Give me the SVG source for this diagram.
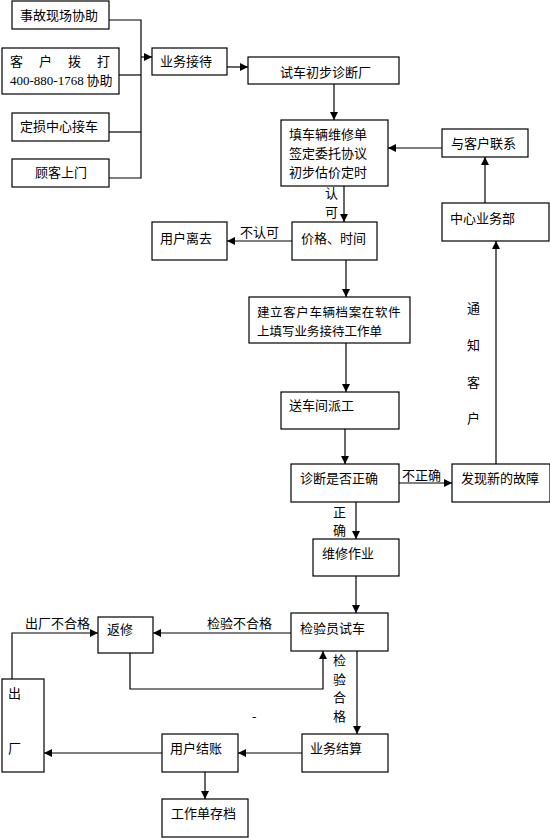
<svg xmlns="http://www.w3.org/2000/svg" width="550" height="838" viewBox="0 0 550 838">
<defs>
<marker id="ah" viewBox="0 0 8 8" refX="8" refY="4" markerWidth="8" markerHeight="8" markerUnits="userSpaceOnUse" orient="auto">
<path d="M0,0 L8,4 L0,8 Z" fill="#000"/>
</marker>
</defs>
<style>
rect{fill:#fff;stroke:#000;stroke-width:1.2}
text{font-family:"Noto Sans CJK SC","Liberation Sans",sans-serif;font-size:13px;fill:#000}
.num{font-family:"Liberation Serif",serif;font-size:13px}
.sm{font-size:12.5px}
#connectors path{fill:none;stroke:#000;stroke-width:1.2}
.arr{marker-end:url(#ah)}
</style>
<rect x="0" y="0" width="550" height="838" style="fill:#fff;stroke:none"/>
<g id="n1"><rect x="12" y="1" width="97" height="28"/><text x="20" y="20">事故现场协助</text></g>
<g id="n2"><rect x="2" y="48" width="117" height="46"/><text x="10" y="66">客</text><text x="39" y="66">户</text><text x="68" y="66">拨</text><text x="97" y="66">打</text><text x="10" y="85"><tspan class="num">400-880-1768</tspan> 协助</text></g>
<g id="n3"><rect x="12" y="113" width="97" height="28"/><text x="20" y="131">定损中心接车</text></g>
<g id="n4"><rect x="12" y="159" width="97" height="28"/><text x="35" y="177">顾客上门</text></g>
<g id="n5"><rect x="152" y="48" width="75" height="27"/><text x="160" y="66">业务接待</text></g>
<g id="n6"><rect x="248" y="57" width="151" height="27"/><text x="280" y="77">试车初步诊断厂</text></g>
<g id="n7"><rect x="281" y="120" width="107" height="66"/><text x="289" y="139">填车辆维修单</text><text x="289" y="158">签定委托协议</text><text x="289" y="177">初步估价定时</text></g>
<g id="n8"><rect x="442" y="129" width="86" height="28"/><text x="451" y="148">与客户联系</text></g>
<g id="n9"><rect x="442" y="203" width="107" height="38"/><text x="450" y="223">中心业务部</text></g>
<g id="n10"><rect x="292" y="222" width="85" height="38"/><text x="301" y="243">价格、时间</text></g>
<g id="n11"><rect x="152" y="222" width="75" height="38"/><text x="160" y="243">用户离去</text></g>
<g id="n12"><rect x="249" y="297" width="161" height="46"/><text class="sm" x="257" y="317" letter-spacing="0.6">建立客户车辆档案在软件</text><text class="sm" x="257" y="336">上填写业务接待工作单</text></g>
<g id="n13"><rect x="281" y="392" width="118" height="37"/><text x="289" y="410">送车间派工</text></g>
<g id="n14"><rect x="291" y="464" width="108" height="38"/><text x="300" y="483">诊断是否正确</text></g>
<g id="n15"><rect x="452" y="464" width="98" height="38"/><text x="461" y="483">发现新的故障</text></g>
<g id="n16"><rect x="313" y="539" width="86" height="37"/><text x="322" y="558">维修作业</text></g>
<g id="n17"><rect x="291" y="613" width="97" height="38"/><text x="300" y="633">检验员试车</text></g>
<g id="n18"><rect x="98" y="617" width="55" height="36"/><text x="107" y="634">返修</text></g>
<g id="n19"><rect x="2" y="679" width="42" height="93"/><text x="8" y="698">出</text><text x="8" y="753">厂</text></g>
<g id="n20"><rect x="302" y="734" width="86" height="38"/><text x="310" y="753">业务结算</text></g>
<g id="n21"><rect x="162" y="734" width="76" height="38"/><text x="170" y="753">用户结账</text></g>
<g id="n22"><rect x="162" y="799" width="86" height="38"/><text x="171" y="818">工作单存档</text></g>
<g id="connectors">
<path d="M109,20 H141 V178 H109"/>
<path d="M119,75 H141"/>
<path d="M109,132 H141"/>
<path class="arr" d="M141,57 H152"/>
<path class="arr" d="M227,67 H248"/>
<path class="arr" d="M334,84 V120"/>
<path class="arr" d="M442,148 H388"/>
<path class="arr" d="M485,203 V157"/>
<path class="arr" d="M496,464 V241"/>
<path class="arr" d="M344,186 V222"/>
<path class="arr" d="M292,241 H227"/>
<path class="arr" d="M346,260 V297"/>
<path class="arr" d="M346,343 V392"/>
<path class="arr" d="M345,429 V464"/>
<path class="arr" d="M399,483 H452"/>
<path class="arr" d="M356,502 V539"/>
<path class="arr" d="M356,576 V613"/>
<path class="arr" d="M291,633 H153"/>
<path class="arr" d="M130,653 V689 H323 V651"/>
<path class="arr" d="M357,651 V734"/>
<path class="arr" d="M302,753 H238"/>
<path class="arr" d="M162,753 H44"/>
<path class="arr" d="M205,772 V799"/>
<path class="arr" d="M12,679 V633 H98"/>
</g>
<g id="labels">
<text x="325" y="198">认</text><text x="325" y="217">可</text>
<text x="240" y="237">不认可</text>
<text x="467" y="313">通</text><text x="467" y="350">知</text><text x="467" y="387">客</text><text x="467" y="423">户</text>
<text x="402" y="480">不正确</text>
<text x="333" y="517">正</text><text x="333" y="535">确</text>
<text x="207" y="628">检验不合格</text>
<text x="25" y="628">出厂不合格</text>
<text x="333" y="665">检</text><text x="333" y="684">验</text><text x="333" y="702">合</text><text x="333" y="721">格</text>
<text x="252" y="721">-</text>
</g>
</svg>
